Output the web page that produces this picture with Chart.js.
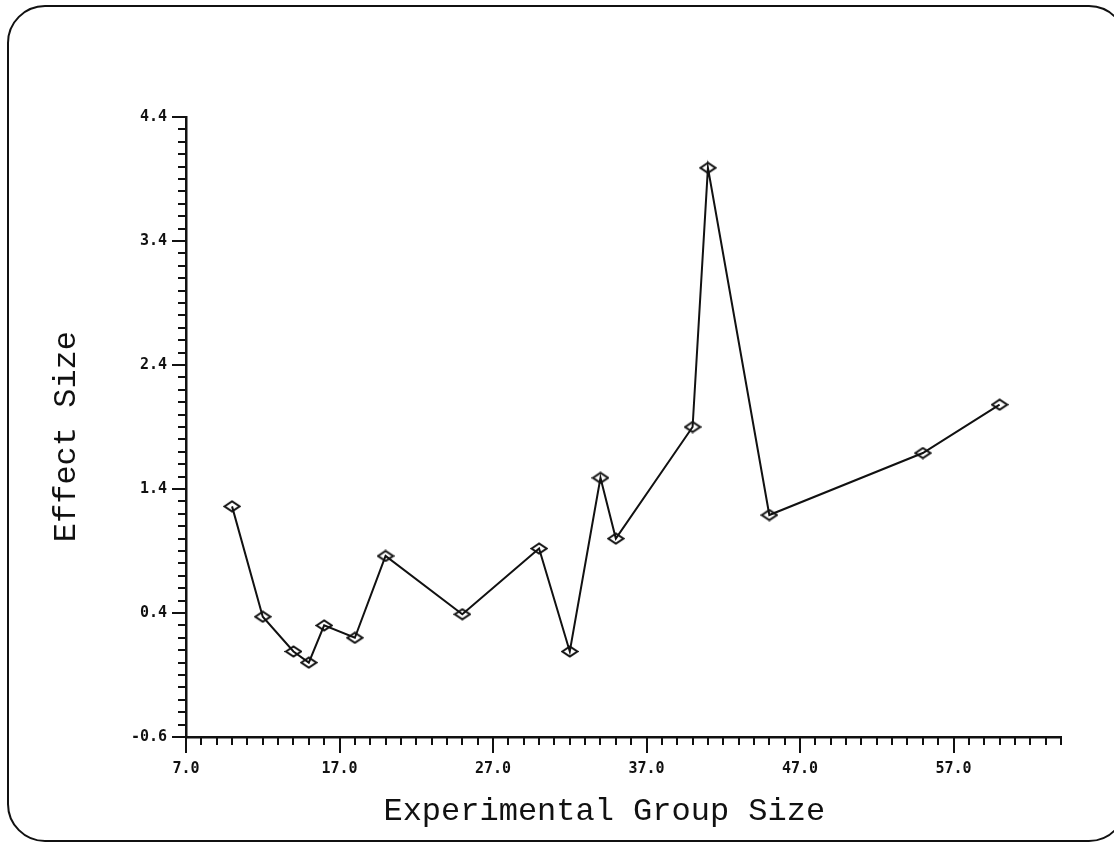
<!DOCTYPE html>
<html>
<head>
<meta charset="utf-8">
<script src="https://cdn.jsdelivr.net/npm/chart.js@4/dist/chart.umd.min.js"></script>
<style>
  html, body { margin: 0; padding: 0; background: #fff; overflow: hidden; }
  #frame {
    position: absolute; left: 7px; top: 5px; width: 1120px; height: 837px;
    box-sizing: border-box; border: 2.5px solid #111; border-radius: 38px;
  }
  #c { position: absolute; left: 0; top: 0; }
</style>
</head>
<body>
<div id="frame"></div>
<canvas id="c" width="1114" height="843"></canvas>
<script>
// group size vs effect size
const groupSize = [10, 12, 14, 15, 16, 18, 20, 25, 30, 32, 34, 35, 40, 41, 45, 55, 60];
const effectSize = [1.26, 0.37, 0.09, 0.0, 0.30, 0.20, 0.86, 0.39, 0.92, 0.09, 1.49, 1.00, 1.90, 3.99, 1.19, 1.69, 2.08];

const xTicks = [7, 17, 27, 37, 47, 57];
const yTicks = [-0.6, 0.4, 1.4, 2.4, 3.4, 4.4];
const xMin = 7, xMax = 64, yMin = -0.6, yMax = 4.4;

// flattened diamond marker
function diamond() {
  const cv = document.createElement('canvas');
  cv.width = 18; cv.height = 13;
  const g = cv.getContext('2d');
  g.strokeStyle = '#111';
  g.lineWidth = 2;
  g.beginPath();
  g.moveTo(1.5, 6.5); g.lineTo(9, 1.5); g.lineTo(16.5, 6.5); g.lineTo(9, 11.5);
  g.closePath();
  g.stroke();
  return cv;
}

// plotter style tick marks, every 1 unit on x and 0.1 on y
const tickMarks = {
  id: 'tickMarks',
  afterDraw(chart) {
    const ctx = chart.ctx;
    const xs = chart.scales.x, ys = chart.scales.y;
    const bottom = chart.chartArea.bottom, left = chart.chartArea.left;
    ctx.save();
    ctx.strokeStyle = '#111';
    ctx.lineWidth = 2;
    ctx.beginPath();
    for (let v = xMin; v <= xMax; v++) {
      const px = Math.round(xs.getPixelForValue(v));
      const len = xTicks.includes(v) ? 16 : 8;
      ctx.moveTo(px, bottom); ctx.lineTo(px, bottom + len);
    }
    for (let i = 0; i <= 50; i++) {
      const v = yMin + i / 10;
      const py = Math.round(ys.getPixelForValue(v));
      const len = i % 10 === 0 ? 14 : 8;
      ctx.moveTo(left, py); ctx.lineTo(left - len, py);
    }
    ctx.stroke();
    ctx.restore();
  }
};

const tickFont = { family: 'DejaVu Sans Mono', size: 15, weight: 'bold' };
const titleFont = { family: 'Liberation Mono', size: 32, weight: 'normal' };

new Chart(document.getElementById('c'), {
  type: 'scatter',
  data: {
    datasets: [{
      data: groupSize.map((x, i) => ({ x: x, y: effectSize[i] })),
      showLine: true,
      borderColor: '#111',
      borderWidth: 2,
      pointStyle: diamond(),
      pointRadius: 8
    }]
  },
  options: {
    responsive: false,
    animation: false,
    devicePixelRatio: 1,
    layout: { padding: { top: 117, right: 53, bottom: 0, left: 0 } },
    plugins: { legend: { display: false }, tooltip: { enabled: false } },
    scales: {
      x: {
        type: 'linear', min: xMin, max: xMax,
        afterBuildTicks: s => { s.ticks = xTicks.map(v => ({ value: v })); },
        afterFit: s => { s.height = 106; },
        grid: { drawOnChartArea: false, drawTicks: false, color: '#111' },
        border: { display: true, color: '#111', width: 2.5 },
        ticks: { color: '#111', font: tickFont, padding: 23, maxRotation: 0,
                 callback: v => v.toFixed(1) },
        title: { display: true, text: 'Experimental Group Size  ', color: '#111',
                 font: titleFont, padding: { top: 0, bottom: 12 } }
      },
      y: {
        type: 'linear', min: yMin, max: yMax,
        afterBuildTicks: s => { s.ticks = yTicks.map(v => ({ value: v })); },
        afterFit: s => { s.width = 186; },
        grid: { drawOnChartArea: false, drawTicks: false, color: '#111' },
        border: { display: true, color: '#111', width: 2.5 },
        ticks: { color: '#111', font: tickFont, padding: 19,
                 callback: v => v.toFixed(1) },
        title: { display: true, text: 'Effect Size ', color: '#111',
                 font: titleFont, padding: { top: 47, bottom: 0 } }
      }
    }
  },
  plugins: [tickMarks]
});
</script>
</body>
</html>
